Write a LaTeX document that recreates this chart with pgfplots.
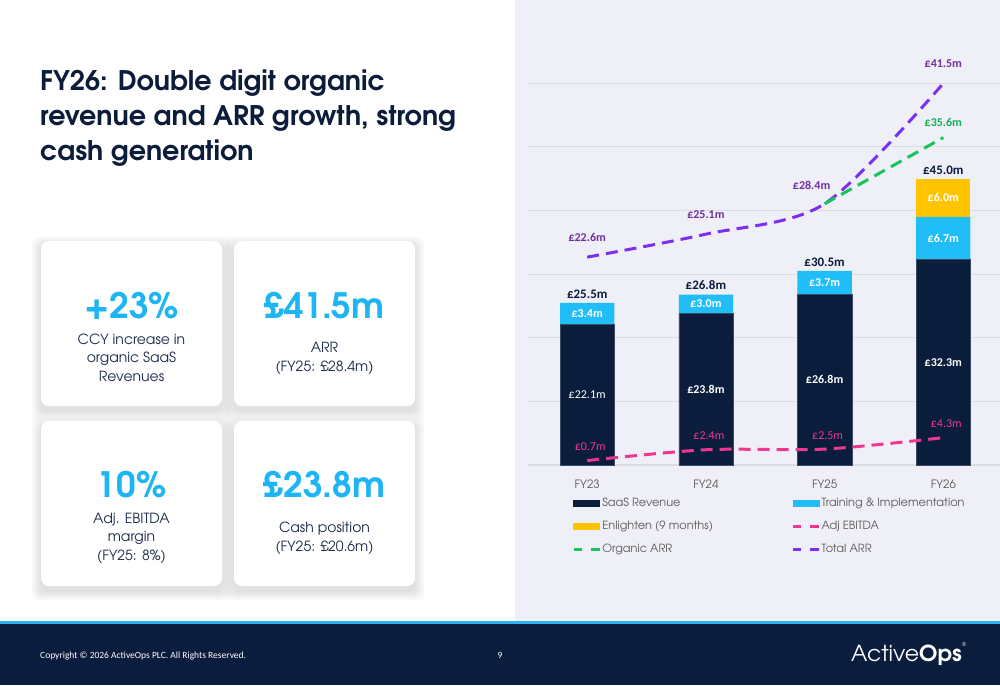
\documentclass[border=0pt]{standalone}
\usepackage{fontspec}
\usepackage{pgfplots}
\pgfplotsset{compat=1.18}
\setmainfont{texgyreadventor}[Extension=.otf, UprightFont=*-regular, BoldFont=*-bold, ItalicFont=*-italic, BoldItalicFont=*-bolditalic]
\newfontfamily\lab{Carlito}
\definecolor{navy}{HTML}{0A1D3C}
\definecolor{titlenavy}{HTML}{0B1D3A}
\definecolor{cardtext}{HTML}{1C2B4A}
\definecolor{barcyan}{HTML}{21BDF7}
\definecolor{bigcyan}{HTML}{1DB5F3}
\definecolor{enl}{HTML}{FFC400}
\definecolor{ebit}{HTML}{F0378F}
\definecolor{orggreen}{HTML}{14C45E}
\definecolor{orglab}{HTML}{12AE55}
\definecolor{arrpurple}{HTML}{7B2FF2}
\definecolor{arrlab}{HTML}{7030A0}
\definecolor{gridc}{HTML}{DCDCE3}
\definecolor{panel}{HTML}{EFEFF8}
\definecolor{greytext}{HTML}{595959}
\definecolor{footline}{HTML}{2BB3EE}

\pgfplotsset{
  chartbase/.style={
    scale only axis, width=474.8pt, height=381.7pt,
    xmin=-0.5, xmax=3.5, ymin=0, clip=false,
    at={(527.85pt,-465pt)}, anchor=south west,
  },
}

\begin{document}
\begin{tikzpicture}
\useasboundingbox (0pt,0pt) rectangle (1000pt,-685pt);
\begin{scope}[x=1pt,y=1pt]
% backgrounds
\fill[white] (0,0) rectangle (515,-622);
\fill[panel] (515,0) rectangle (1000,-622);
\fill[navy] (0,-622) rectangle (1000,-685);
\fill[footline] (0,-621) rectangle (1000,-623.5);

% title
\node[anchor=north west, align=left, inner sep=0pt, text=titlenavy,
      font=\fontsize{27}{35}\selectfont\bfseries] at (40,-70)
  {FY26: Double digit organic\\revenue and ARR growth, strong\\cash generation};

% cards with soft shadows
\foreach \x/\y in {41/-241, 234/-241, 41/-421, 234/-421}{
  \foreach \s in {1,2,...,10}{
    \fill[black, opacity=0.011, rounded corners=8pt] (\x-\s,\y+\s-5) rectangle ++(181+2*\s,-165-2*\s);
  }
  \fill[white, rounded corners=8pt] (\x,\y) rectangle ++(181,-165);
}
\node[anchor=base, text=bigcyan, font=\fontsize{35}{35}\selectfont\bfseries] at (131.5,-318) {+23\%};
\node[anchor=base, text=bigcyan, font=\fontsize{35}{35}\selectfont\bfseries] at (324.5,-318) {£41.5m};
\node[anchor=base, text=bigcyan, font=\fontsize{35}{35}\selectfont\bfseries] at (131.5,-497) {10\%};
\node[anchor=base, text=bigcyan, font=\fontsize{35}{35}\selectfont\bfseries] at (324.5,-497) {£23.8m};
\node[anchor=base, align=center, text=cardtext, font=\fontsize{14}{18.5}\selectfont] at (131.5,-381) {CCY increase in\\organic SaaS\\Revenues};
\node[anchor=base, align=center, text=cardtext, font=\fontsize{14}{18.5}\selectfont] at (324.5,-371) {ARR\\(FY25: £28.4m)};
\node[anchor=base, align=center, text=cardtext, font=\fontsize{14}{18.5}\selectfont] at (131.5,-560) {Adj. EBITDA\\margin\\(FY25: 8\%)};
\node[anchor=base, align=center, text=cardtext, font=\fontsize{14}{18.5}\selectfont] at (324.5,-551) {Cash position\\(FY25: £20.6m)};

% footer
\node[anchor=west, inner sep=0pt, text=white, font=\lab\fontsize{9.5}{11}\selectfont] at (40,-656) {Copyright © 2026 ActiveOps PLC. All Rights Reserved.};
\node[inner sep=0pt, text=white, font=\lab\fontsize{9.5}{11}\selectfont] at (500,-655) {9};
\node[anchor=west, inner sep=0pt, text=white, font=\fontsize{22}{22}\selectfont] at (851,-654) {Active\textbf{Ops}\raisebox{1.2ex}{\fontsize{6}{6}\selectfont ®}};
\end{scope}

% ---------------- chart: stacked bars ----------------
\begin{axis}[chartbase,
  ymax=60, ybar stacked, bar width=54.3pt,
  axis line style={draw=none}, tick style={draw=none},
  ymajorgrids, grid style={gridc, line width=1.1pt},
  ytick={0,10,...,60}, yticklabels={,,,,,,},
  xtick={0,1,2,3}, xticklabels={FY23,FY24,FY25,FY26},
  xticklabel style={text=greytext, font=\fontsize{11.5}{13}\selectfont, yshift=-11pt},
]
\addplot[fill=navy, draw=navy!80!white] coordinates {(0,22.1) (1,23.8) (2,26.8) (3,32.3)};
\addplot[fill=barcyan, draw=none] coordinates {(0,3.4) (1,3.0) (2,3.7) (3,6.7)};
\addplot[fill=enl, draw=none] coordinates {(0,0) (1,0) (2,0) (3,6.0)};
\end{axis}

% ---------------- overlay: EBITDA + bar labels ----------------
\begin{axis}[chartbase, ymax=60, hide axis]
\addplot[ebit, line width=3pt, dash pattern=on 12pt off 7pt, smooth,
  nodes near coords, point meta=explicit symbolic,
  every node near coord/.append style={anchor=south, yshift=5pt, xshift=3pt, text=ebit, font=\lab\fontsize{12}{13}\selectfont}]
  coordinates {(0,0.7)[£0.7m] (1,2.4)[£2.4m] (2,2.5)[£2.5m] (3,4.3)[£4.3m]};
% totals above the bars
\addplot[draw=none, mark=none, nodes near coords, point meta=explicit symbolic,
  every node near coord/.append style={anchor=south, yshift=1pt, text=navy, font=\lab\bfseries\fontsize{13}{15}\selectfont}]
  coordinates {(0,25.5)[£25.5m] (1,26.8)[£26.8m] (2,30.5)[£30.5m] (3,45.0)[£45.0m]};
% SaaS segment labels (segment centres)
\addplot[draw=none, mark=none, nodes near coords, point meta=explicit symbolic,
  every node near coord/.append style={anchor=center, text=white, font=\lab\bfseries\fontsize{12}{14}\selectfont}]
  coordinates {(0,11.05)[{\mdseries £22.1m}] (1,11.9)[£23.8m] (2,13.4)[£26.8m] (3,16.15)[£32.3m]};
% Training segment labels
\addplot[draw=none, mark=none, nodes near coords, point meta=explicit symbolic,
  every node near coord/.append style={anchor=center, text=white, font=\lab\bfseries\fontsize{12}{14}\selectfont}]
  coordinates {(0,23.8)[£3.4m] (1,25.3)[£3.0m] (2,28.65)[£3.7m] (3,35.65)[£6.7m]};
% Enlighten segment label
\addplot[draw=none, mark=none, nodes near coords, point meta=explicit symbolic,
  every node near coord/.append style={anchor=center, text=white, font=\lab\bfseries\fontsize{12}{14}\selectfont}]
  coordinates {(3,42.0)[£6.0m]};
\end{axis}

% ---------------- overlay: ARR (secondary scale) + legend ----------------
\begin{axis}[chartbase, ymax=41.5, hide axis,
  legend columns=2,
  legend cell align=left,
  legend style={at={(rel axis cs:0.093,-0.083)}, anchor=north west, draw=none, fill=none,
     inner sep=0pt, row sep=10pt, text=greytext, font=\fontsize{11.3}{13}\selectfont,
     nodes={inner sep=1.5pt},
     /tikz/column 2/.style={column sep=77pt}},
]
\addlegendimage{legend image code/.code={\fill[navy] (0pt,-3pt) rectangle (26pt,3pt);}}
\addlegendentry{SaaS Revenue}
\addlegendimage{legend image code/.code={\fill[barcyan] (0pt,-3pt) rectangle (26pt,3pt);}}
\addlegendentry{Training \& Implementation}
\addlegendimage{legend image code/.code={\fill[enl] (0pt,-3pt) rectangle (26pt,3pt);}}
\addlegendentry{Enlighten (9 months)}
\addlegendimage{legend image code/.code={\draw[ebit, line width=2.6pt] (0pt,0pt)--(8pt,0pt) (17pt,0pt)--(26pt,0pt);}}
\addlegendentry{Adj EBITDA}
\addlegendimage{legend image code/.code={\draw[orggreen, line width=2.6pt] (0pt,0pt)--(8pt,0pt) (17pt,0pt)--(26pt,0pt);}}
\addlegendentry{Organic ARR}
\addlegendimage{legend image code/.code={\draw[arrpurple, line width=2.6pt] (0pt,0pt)--(8pt,0pt) (17pt,0pt)--(26pt,0pt);}}
\addlegendentry{Total ARR}

\addplot[forget plot, arrpurple, line width=3pt, dash pattern=on 12pt off 7pt, smooth,
  nodes near coords, point meta=explicit symbolic,
  every node near coord/.append style={anchor=south, yshift=11pt, text=arrlab, font=\lab\bfseries\fontsize{12}{13}\selectfont}]
  coordinates {(0,22.6)[£22.6m] (1,25.1)[£25.1m] (2,28.4)[] (3,41.5)[£41.5m]};
% FY25 Total ARR label sits left of the junction with Organic ARR
\addplot[forget plot, draw=none, mark=none, nodes near coords, point meta=explicit symbolic,
  every node near coord/.append style={anchor=south, yshift=11pt, xshift=-13pt, text=arrlab, font=\lab\bfseries\fontsize{12}{13}\selectfont}]
  coordinates {(2,28.4)[£28.4m]};
\addplot[forget plot, orggreen, line width=3pt, dash pattern=on 12pt off 7pt, smooth,
  nodes near coords, point meta=explicit symbolic,
  every node near coord/.append style={anchor=south, yshift=6pt, text=orglab, font=\lab\bfseries\fontsize{12}{13}\selectfont}]
  coordinates {(2,28.4)[] (3,35.6)[£35.6m]};
\end{axis}
\end{tikzpicture}
\end{document}
